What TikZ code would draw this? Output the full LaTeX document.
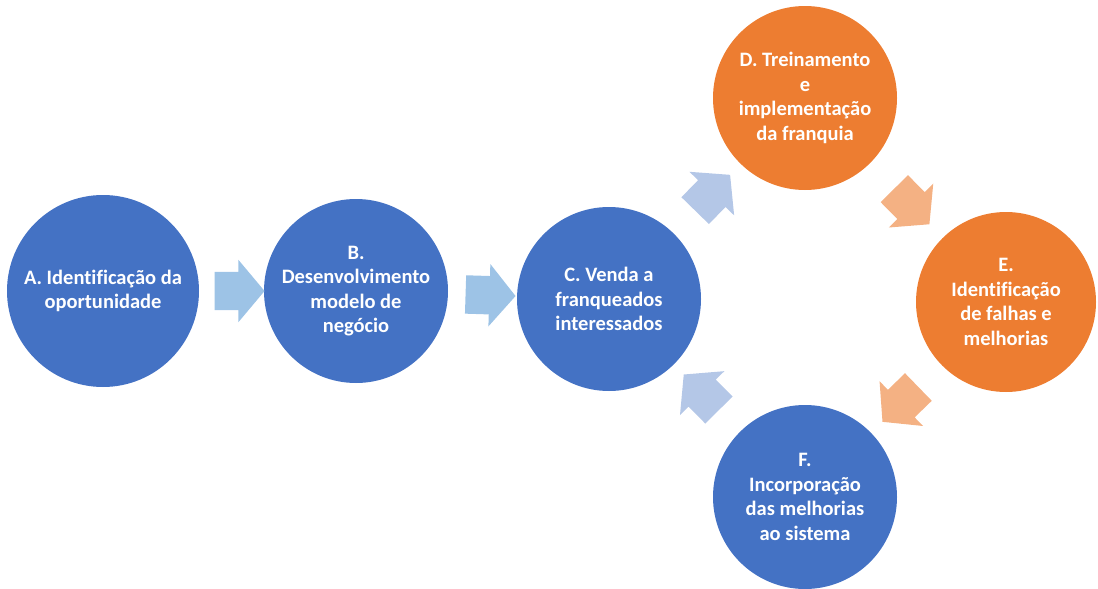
\documentclass[tikz,border=0pt]{standalone}
\usepackage{fontspec}
\setmainfont{Carlito}[Ligatures=NoCommon]
\usetikzlibrary{shapes.arrows, positioning}
\definecolor{stBlue}   {RGB}{68,  114, 196}
\definecolor{stOrange} {RGB}{237, 125, 49}
\definecolor{arSky}    {RGB}{157, 195, 230}
\definecolor{arLilac}  {RGB}{180, 199, 231}
\definecolor{arPeach}  {RGB}{244, 177, 131}

\begin{document}
\begin{tikzpicture}[
  x=1pt, y=-1pt,
  stage/.style = {
    circle, inner sep=0pt, minimum size=#1,
    text=white, align=center,
    font=\bfseries\fontsize{20.5}{24.5}\selectfont
  },
  flow/.style = {
    single arrow, draw=none, fill=#1,
    inner xsep=0pt, inner ysep=19pt,
    minimum height=50pt,
    single arrow head extend=12pt, single arrow tip angle=100,
    sloped, allow upside down
  }
]
  \useasboundingbox (0,0) rectangle (1098,589);

  \node[stage=192pt, fill=stBlue]   (a) at (103,291)  {A. Identificação da\\oportunidade};
  \node[stage=184pt, fill=stBlue]   (b) at (356,291)  {B.\\Desenvolvimento\\modelo de\\negócio};
  \node[stage=184pt, fill=stBlue]   (c) at (609,299)  {C. Venda a\\franqueados\\interessados};
  \node[stage=184pt, fill=stOrange] (d) at (805,98)   {D. Treinamento\\e\\implementação\\da franquia};
  \node[stage=180pt, fill=stOrange] (e) at (1006,302) {E.\\Identificação\\de falhas e\\melhorias};
  \node[stage=184pt, fill=stBlue]   (f) at (805,497)  {F.\\Incorporação\\das melhorias\\ao sistema};

  % block arrows between the stages
  \path (a) -- node[flow=arSky]   {} (b);
  \path (b) -- node[flow=arSky]   {} (c);
  \path (c) -- node[flow=arLilac] {} (d);
  \path (d) -- node[flow=arPeach] {} (e);
  \path (e) -- node[flow=arPeach] {} (f);
  \path (f) -- node[flow=arLilac] {} (c);
\end{tikzpicture}
\end{document}
